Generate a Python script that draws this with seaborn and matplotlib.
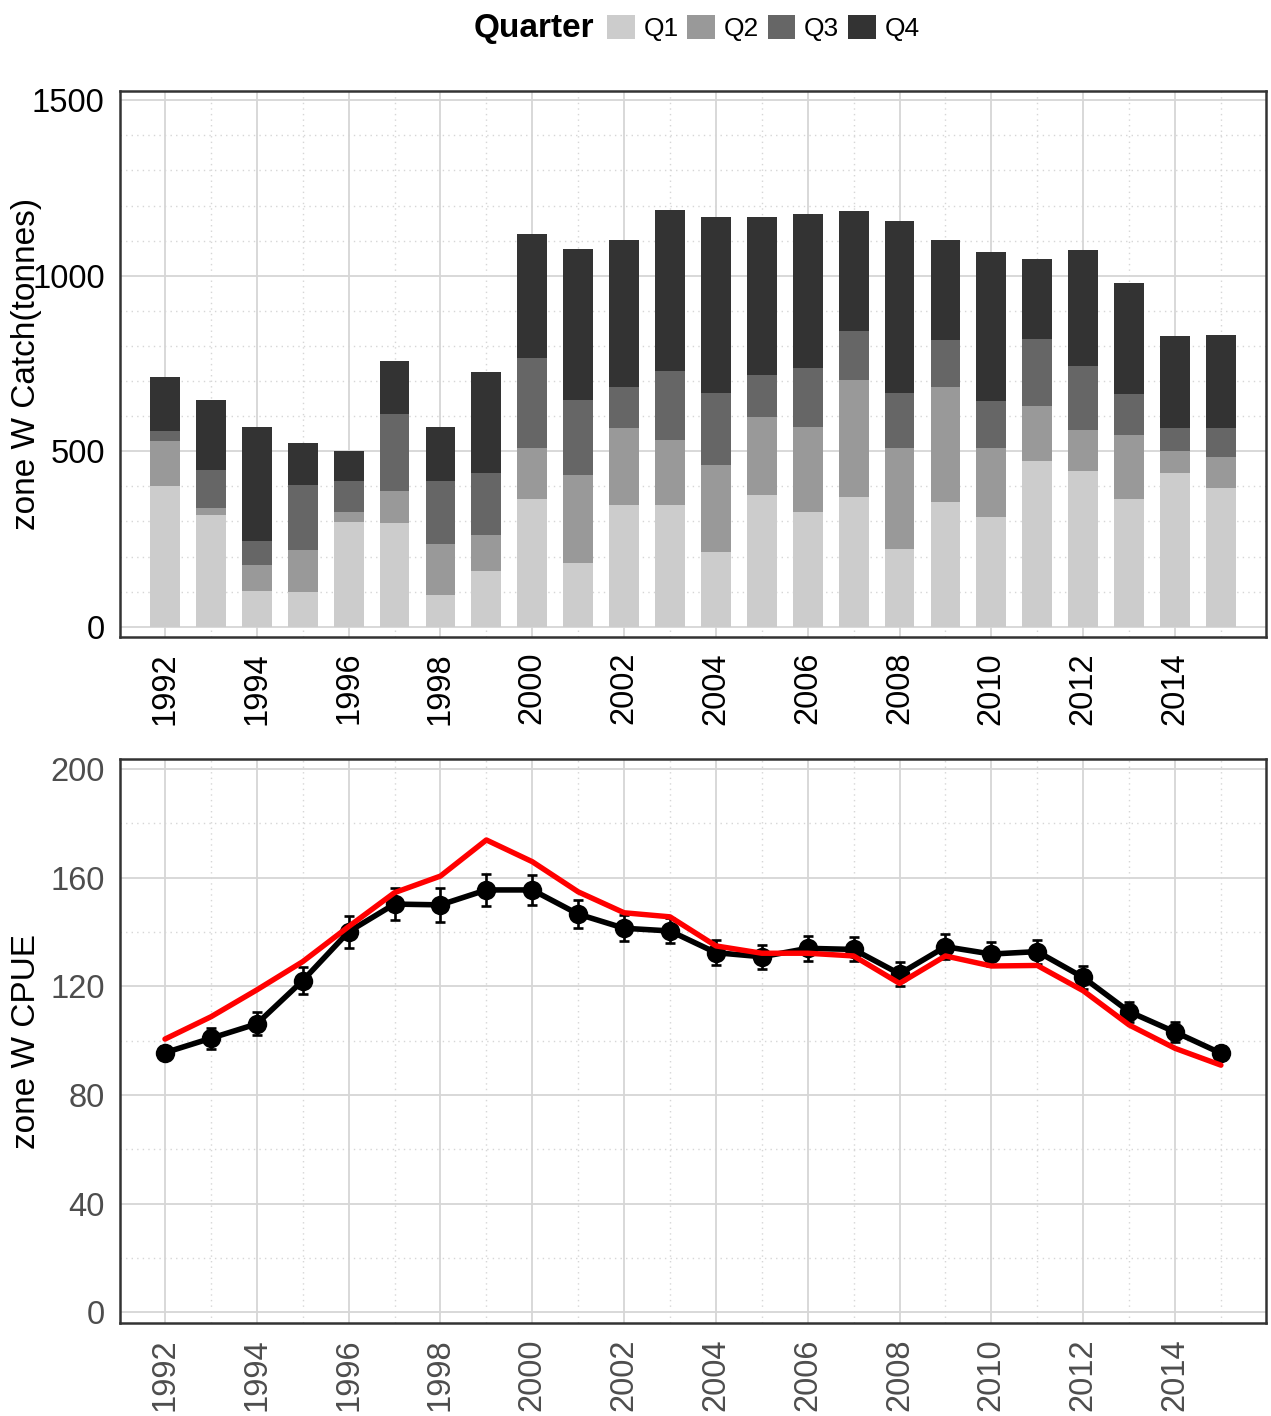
import pandas as pd
import matplotlib
matplotlib.use("Agg")
import matplotlib.pyplot as plt
from matplotlib.ticker import MultipleLocator, FixedLocator
from matplotlib.patches import Patch
import seaborn as sns

# ── Data ────────────────────────────────────────────────────
years = list(range(1992, 2016))
quarters = ["Q1", "Q2", "Q3", "Q4"]
q_colors = ["#CCCCCC", "#999999", "#666666", "#333333"]

q1 = [402, 319, 103, 100, 299, 297, 91, 160, 365, 183, 348, 348,
      214, 376, 328, 371, 222, 356, 314, 471, 445, 365, 439, 394]
q2 = [126, 20, 74, 120, 29, 91, 146, 102, 145, 250, 217, 185,
      248, 223, 242, 331, 288, 326, 194, 159, 117, 180, 63, 91]
q3 = [31, 109, 68, 185, 88, 219, 179, 177, 257, 214, 117, 197,
      205, 117, 166, 142, 155, 134, 134, 191, 182, 117, 63, 80]
q4 = [154, 199, 323, 120, 86, 149, 154, 288, 351, 428, 419, 456,
      499, 450, 439, 340, 490, 285, 425, 226, 328, 316, 262, 265]

cpue_nominal = [95.6, 100.9, 106.2, 122.1, 140.1, 150.3, 150.0, 155.5,
                155.5, 146.6, 141.4, 140.4, 132.4, 130.9, 134.0, 133.6,
                124.6, 134.6, 131.9, 132.8, 123.3, 110.7, 103.2, 95.4]
cpue_se = [2.5, 3.8, 4.2, 5.0, 5.8, 6.0, 6.2, 6.0, 5.5, 5.2, 4.8, 4.6,
           4.5, 4.5, 4.5, 4.4, 4.3, 4.6, 4.4, 4.4, 4.1, 3.7, 3.7, 2.5]
cpue_std = [100.6, 108.8, 118.7, 129.1, 142.0, 154.5, 160.6, 173.9,
            165.9, 154.8, 147.1, 145.6, 134.9, 132.2, 132.2, 131.2,
            121.1, 131.2, 127.5, 127.7, 118.4, 105.8, 97.2, 91.0]

catch = pd.DataFrame({"Year": years, "Q1": q1, "Q2": q2, "Q3": q3, "Q4": q4})
stack = catch[quarters].cumsum(axis=1)
cpue = pd.DataFrame({"Year": years, "Nominal": cpue_nominal,
                     "SE": cpue_se, "Standardised": cpue_std})

sns.set_style("white")
plt.rcParams["font.family"] = ["Liberation Sans", "DejaVu Sans"]
plt.rcParams["text.color"] = "black"
plt.rcParams["axes.labelcolor"] = "black"

fig = plt.figure(figsize=(12.71, 14.16), dpi=100)
ax1 = fig.add_axes([0.0944, 0.5504, 0.9016, 0.3855])
ax2 = fig.add_axes([0.0944, 0.0655, 0.9016, 0.3983])

# ── Stacked catch bars (draw totals first, then overlay) ────
for q, col in reversed(list(zip(quarters, q_colors))):
    sns.barplot(x=catch["Year"], y=stack[q], color=col, width=0.65,
                saturation=1, errorbar=None, linewidth=0, ax=ax1, zorder=3)

# ── CPUE lines ───────────────────────────────────────────────
ax2.errorbar(cpue["Year"], cpue["Nominal"], yerr=cpue["SE"], fmt="none",
             ecolor="black", elinewidth=1.9, capsize=3.5, capthick=1.9, zorder=3)
sns.lineplot(data=cpue, x="Year", y="Nominal", color="black", linewidth=4.0,
             marker="o", markersize=14, markeredgewidth=0, ax=ax2, zorder=4)
sns.lineplot(data=cpue, x="Year", y="Standardised", color="#FF0000",
             linewidth=3.9, ax=ax2, zorder=5)


def style(ax, label_color):
    ax.set_axisbelow(True)
    ax.grid(which="major", color="#D6D6D6", linewidth=1.3, linestyle="-")
    ax.grid(which="minor", color="#D6D6D6", linewidth=1.0, linestyle=(0, (1, 3)))
    for s in ax.spines.values():
        s.set_visible(True)
        s.set_color("#333333")
        s.set_linewidth(1.8)
    ax.tick_params(which="major", length=5, width=1.8, color="#333333",
                   labelsize=23.5, labelcolor=label_color, pad=6)
    ax.tick_params(which="minor", length=0)
    ax.tick_params(axis="x", labelrotation=90)
    ax.set_xlabel("")


# top panel axes
ax1.set_xticks(range(0, len(years), 2))
ax1.set_xticklabels(years[::2])
ax1.xaxis.set_minor_locator(FixedLocator(range(1, len(years), 2)))
ax1.set_yticks([0, 500, 1000, 1500])
ax1.yaxis.set_minor_locator(MultipleLocator(100))
ax1.set_xlim(-0.98, len(years) - 1 + 0.98)
ax1.set_ylim(-28, 1527)
style(ax1, "black")
ax1.set_ylabel("zone W Catch(tonnes)", fontsize=24, color="black")
ax1.yaxis.set_label_coords(-0.068, 0.5)

# bottom panel axes
ax2.set_xticks(years[::2])
ax2.xaxis.set_minor_locator(FixedLocator(years[1::2]))
ax2.set_yticks(range(0, 201, 40))
ax2.yaxis.set_minor_locator(MultipleLocator(20))
ax2.set_xlim(years[0] - 0.98, years[-1] + 0.98)
ax2.set_ylim(-4, 203.6)
style(ax2, "#4D4D4D")
ax2.set_ylabel("zone W CPUE", fontsize=24, color="black")
ax2.yaxis.set_label_coords(-0.068, 0.5)

# ── Legend on top ────────────────────────────────────────────
handles = [Patch(facecolor=c, edgecolor="none", label=q)
           for q, c in zip(quarters, q_colors)]
fig.legend(handles=handles, loc="center left",
           bbox_to_anchor=(607 / 1271, 1 - 28 / 1416), ncol=4, frameon=False,
           fontsize=19, handlelength=1.05, handleheight=1.05,
           handletextpad=0.33, columnspacing=0.33, borderpad=0, borderaxespad=0)
fig.text(594 / 1271, 1 - 28 / 1416, "Quarter", fontsize=24,
         fontweight="bold", ha="right", va="center")

fig.savefig("out.png", dpi=100)
